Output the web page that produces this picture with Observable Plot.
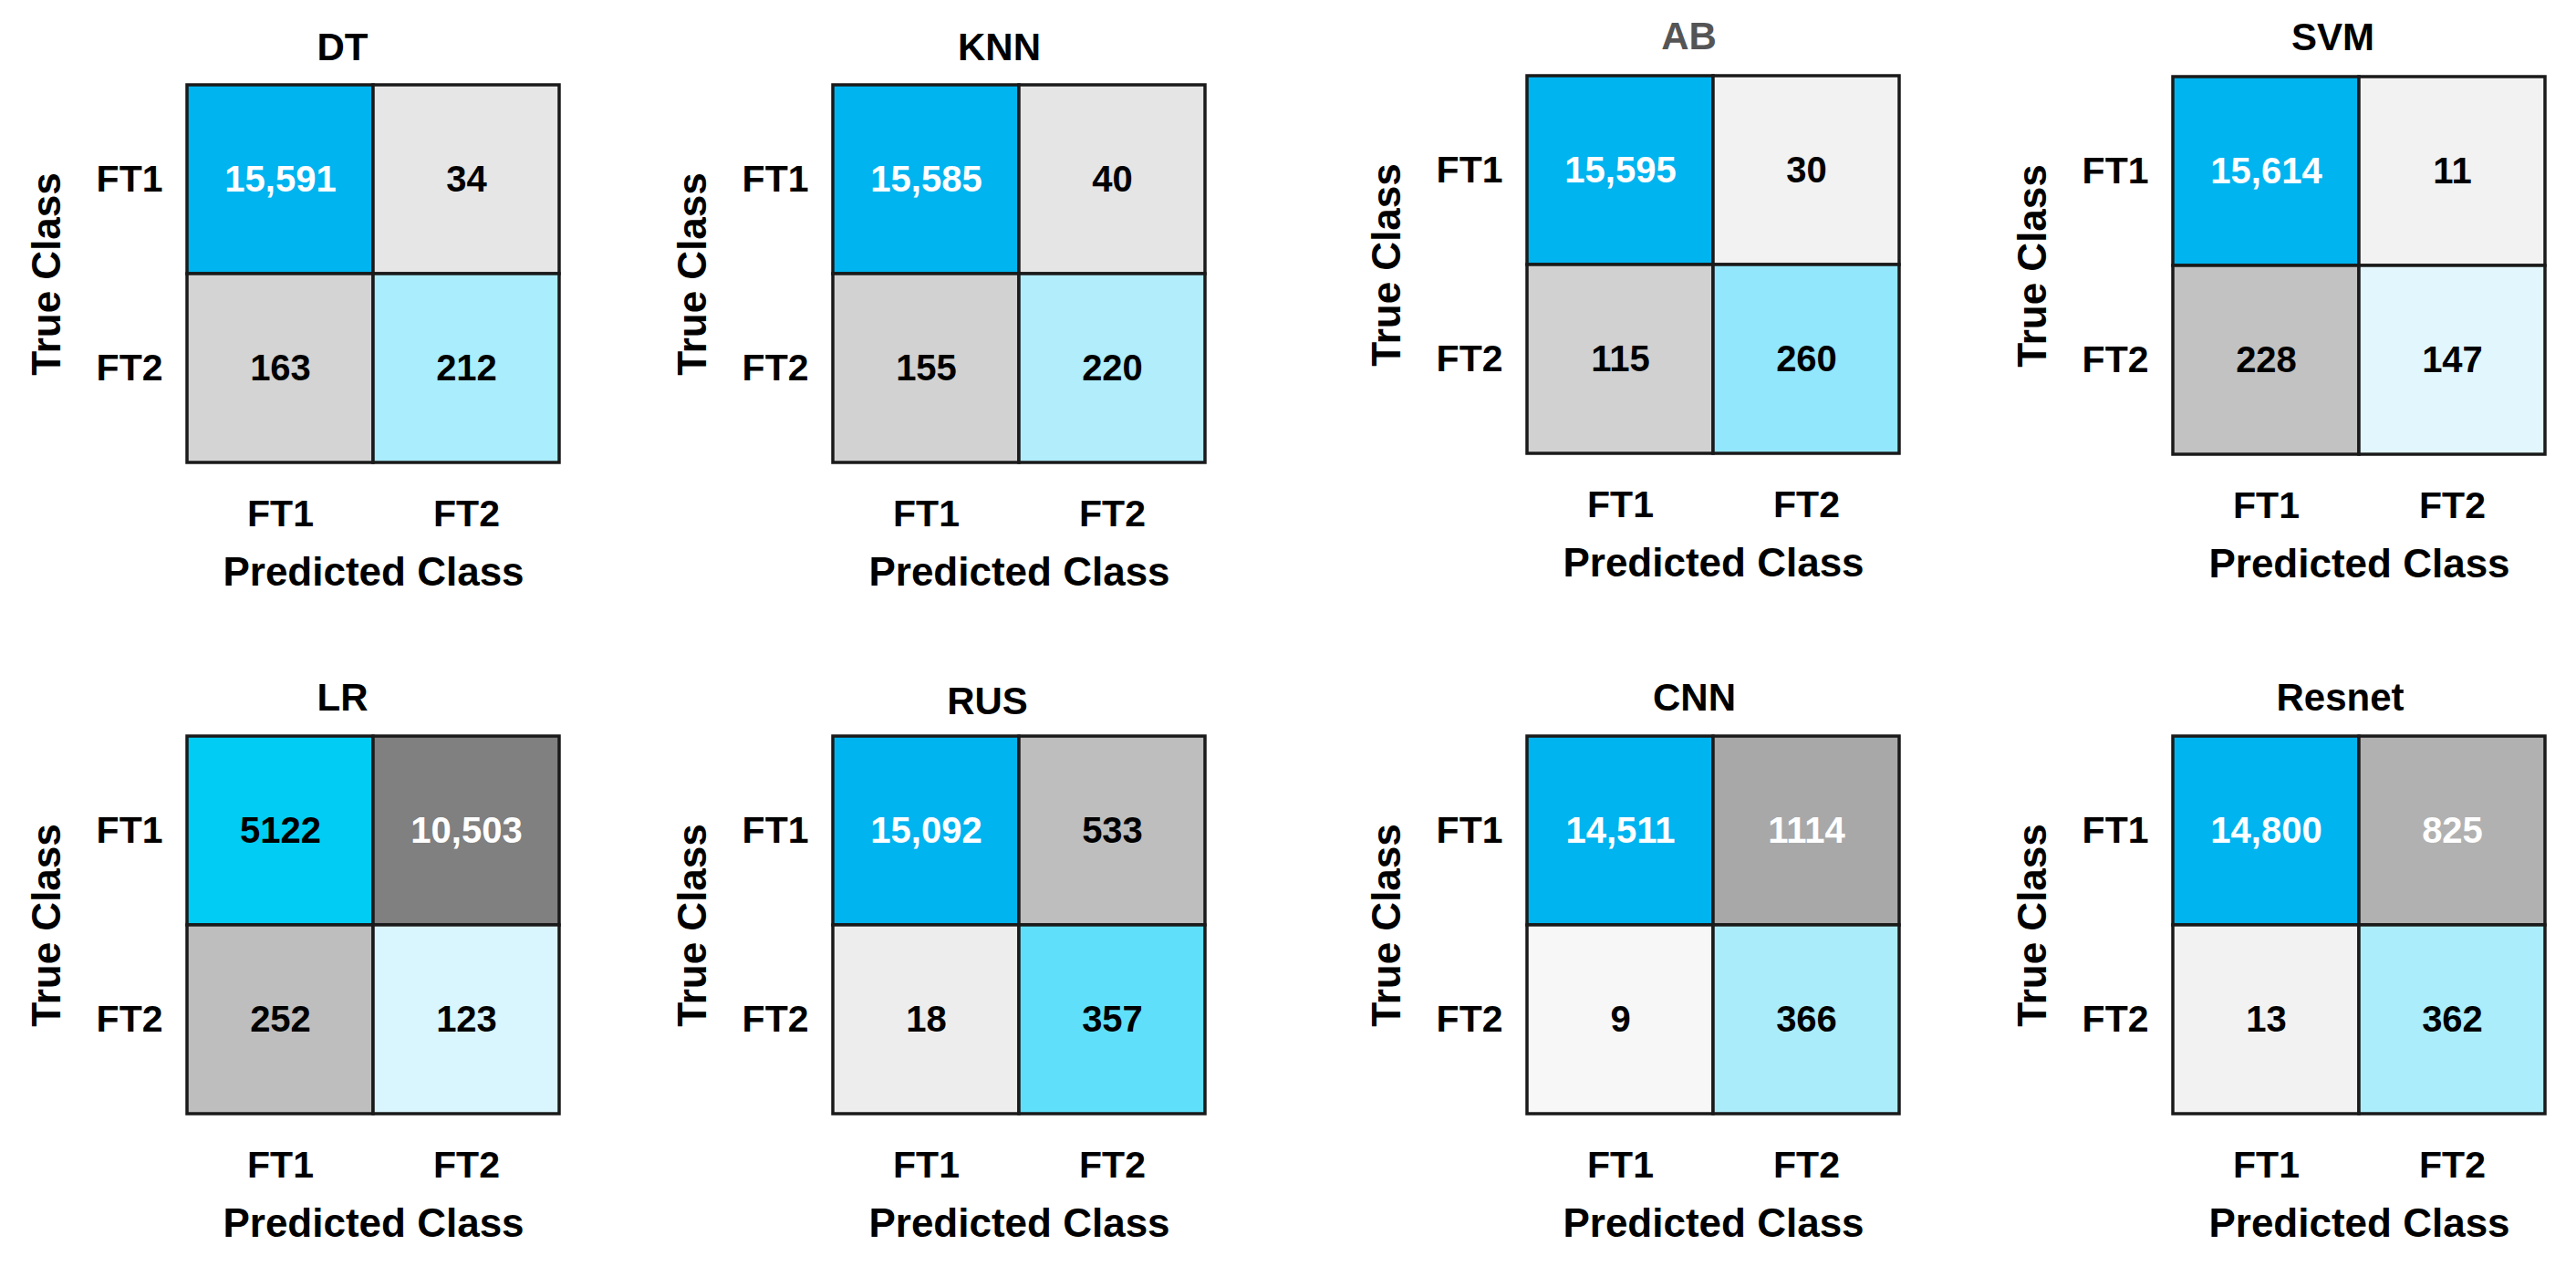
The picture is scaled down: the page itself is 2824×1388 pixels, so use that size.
<!DOCTYPE html>
<html>
<head>
<meta charset="utf-8">
<script src="https://cdn.jsdelivr.net/npm/d3@7"></script>
<script src="https://cdn.jsdelivr.net/npm/@observablehq/plot@0.6"></script>
<style>
  html, body { margin: 0; padding: 0; background: #fff; }
  #fig { position: relative; width: 2824px; height: 1388px; overflow: hidden; background: #fff; }
  #fig > div, #fig > svg { position: absolute; }
</style>
</head>
<body>
<div id="fig"></div>
<script>
// ---------- data ----------
const models = ["DT", "KNN", "AB", "SVM", "LR", "RUS", "CNN", "Resnet"];
const classes = ["FT1", "FT2"];          // true (rows) and predicted (columns)

// counts in row order: [FT1→FT1, FT1→FT2, FT2→FT1, FT2→FT2]
const dtCounts     = [15591,    34,  163, 212];
const knnCounts    = [15585,    40,  155, 220];
const abCounts     = [15595,    30,  115, 260];
const svmCounts    = [15614,    11,  228, 147];
const lrCounts     = [ 5122, 10503,  252, 123];
const rusCounts    = [15092,   533,   18, 357];
const cnnCounts    = [14511,  1114,    9, 366];
const resnetCounts = [14800,   825,   13, 362];

const counts = {DT: dtCounts, KNN: knnCounts, AB: abCounts, SVM: svmCounts,
                LR: lrCounts, RUS: rusCounts, CNN: cnnCounts, Resnet: resnetCounts};

// ---------- styles ----------
const cellFills = {
  DT:     ["#00b4f0", "#e6e6e6", "#d4d4d4", "#aaedfc"],
  KNN:    ["#00b4f0", "#e5e5e5", "#d2d2d2", "#b1edfb"],
  AB:     ["#00b4f0", "#f2f2f2", "#d1d1d1", "#92e7fc"],
  SVM:    ["#00b4f0", "#f2f2f2", "#c2c2c2", "#e1f7fd"],
  LR:     ["#00ccf4", "#808080", "#bebebe", "#d9f5fd"],
  RUS:    ["#00b4f0", "#bebebe", "#ededed", "#5fdffa"],
  CNN:    ["#00b4f0", "#a8a8a8", "#f7f7f7", "#abecfb"],
  Resnet: ["#00b4f0", "#b1b1b1", "#f2f2f2", "#abedfb"]
};
const W = "#ffffff", K = "#000000";
const valueInks = {
  DT: [W, K, K, K], KNN: [W, K, K, K], AB: [W, K, K, K], SVM: [W, K, K, K],
  LR: [K, W, K, K], RUS: [W, K, K, K], CNN: [W, W, K, K], Resnet: [W, W, K, K]
};
const titleInks = {AB: "#555555"};

// layout: matrix top-left corner on the page, title shift
const layout = {
  DT:     {x: 205,  y: 93,  tdx: -34, tdy: -41},
  KNN:    {x: 913,  y: 93,  tdx: -22, tdy: -41},
  AB:     {x: 1674, y: 83,  tdx: -27, tdy: -43},
  SVM:    {x: 2382, y: 84,  tdx: -29, tdy: -43},
  LR:     {x: 205,  y: 807, tdx: -34, tdy: -42},
  RUS:    {x: 913,  y: 807, tdx: -35, tdy: -38},
  CNN:    {x: 1674, y: 807, tdx: -21, tdy: -42},
  Resnet: {x: 2382, y: 807, tdx: -21, tdy: -42}
};

const fmt = v => v >= 10000 ? d3.format(",")(v) : String(v);
const FONT = "'Liberation Sans', Arial, Helvetica, sans-serif";
const mL = 205, mT = 93, mR = 30, mB = 160, cw = 408, ch = 414;

const fig = document.getElementById("fig");

for (const name of models) {
  const rows = [];
  classes.forEach((t, r) => classes.forEach((p, c) => {
    const k = r * 2 + c;
    rows.push({trueC: t, pred: p, value: counts[name][k],
               fill: cellFills[name][k], ink: valueInks[name][k]});
  }));
  const L = layout[name];
  const chart = Plot.plot({
    width: mL + cw + mR,
    height: mT + ch + mB,
    marginLeft: mL, marginRight: mR, marginTop: mT, marginBottom: mB,
    style: {fontFamily: FONT, background: "transparent", overflow: "visible", color: "#000"},
    x: {domain: classes, padding: 0},
    y: {domain: classes, padding: 0},
    color: {type: "identity"},
    marks: [
      Plot.cell(rows, {x: "pred", y: "trueC", fill: "fill", stroke: "#1a1a1a", strokeWidth: 3.5, inset: 0}),
      Plot.text(rows, {x: "pred", y: "trueC", text: d => fmt(d.value), fill: "ink",
                       fontSize: 40, fontWeight: "bold"}),
      Plot.axisX({anchor: "bottom", tickSize: 0, tickPadding: 40, fontSize: 41,
                  fontWeight: "bold", label: null}),
      Plot.axisY({anchor: "left", tickSize: 0, tickPadding: 27, fontSize: 41,
                  fontWeight: "bold", label: null}),
      Plot.text(["Predicted Class"], {frameAnchor: "bottom", lineAnchor: "middle", textAnchor: "middle",
                                      dy: 120, fontSize: 44, fontWeight: "bold"}),
      Plot.text(["True Class"], {frameAnchor: "left", lineAnchor: "middle", textAnchor: "middle",
                                 dx: -154, rotate: -90, fontSize: 44, fontWeight: "bold"}),
      Plot.text([name], {frameAnchor: "top", lineAnchor: "middle", textAnchor: "middle",
                         dy: L.tdy, dx: L.tdx, fontSize: 42, fontWeight: "bold",
                         fill: titleInks[name] || "#000"})
    ]
  });
  chart.style.left = (L.x - mL) + "px";
  chart.style.top = (L.y - mT) + "px";
  fig.appendChild(chart);
}
</script>
</body>
</html>
